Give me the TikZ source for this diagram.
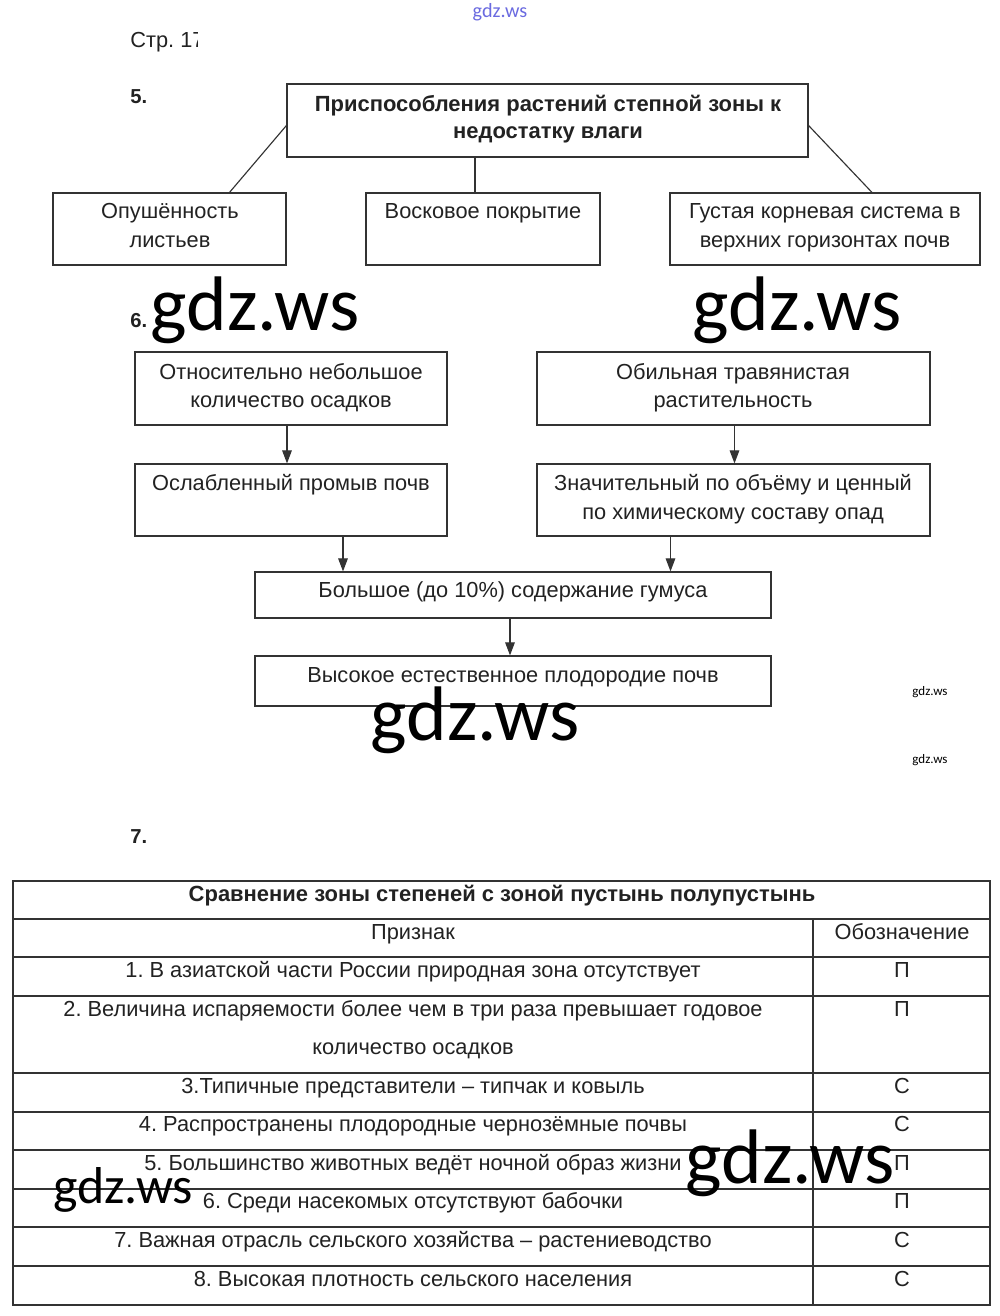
\documentclass[tikz,border=0pt]{standalone}
\usepackage{fontspec}
\setmainfont{Liberation Sans}
\newfontfamily\wmfont{Carlito}
\usetikzlibrary{arrows.meta,fit,calc}
\definecolor{ink}{HTML}{222222}
\definecolor{edge}{HTML}{333333}
\definecolor{wmblue}{HTML}{6A6AE0}
\frenchspacing
\begin{document}
\begin{tikzpicture}[x=0.02cm,y=-0.02cm,
  box/.style={draw=edge, line width=0.65pt, inner sep=0pt},
  txt/.style={font=\fontsize{12.4}{14}\selectfont, text=ink, inner sep=0pt, anchor=base, yshift=-0.12cm},
  btxt/.style={font=\bfseries\fontsize{12.5}{14}\selectfont, text=ink, inner sep=0pt, anchor=base, yshift=-0.12cm},
  lbl/.style={font=\bfseries\fontsize{11.5}{13}\selectfont, text=ink, inner sep=0pt, anchor=west},
  link/.style={draw=edge, line width=0.65pt},
  arr/.style={draw=edge, line width=0.65pt, -{Triangle[length=7.5pt,width=5.5pt]}},
  grid/.style={draw=edge, line width=0.7pt},
  wm/.style={font=\wmfont\fontsize{44}{44}\selectfont, text=black, inner sep=0pt, anchor=base},
  wmsmall/.style={font=\wmfont\fontsize{7.4}{8}\selectfont, text=black, inner sep=0pt, anchor=base},
]
\useasboundingbox[fill=white] (0,0) rectangle (1000,1316);

% header
\node[font=\wmfont\fontsize{11.5}{12}\selectfont, text=wmblue, inner sep=0pt] (wmtop) at (500,12) {gdz.ws};
\begin{scope}
\clip (120,25) rectangle (197,60);
\node[font=\fontsize{12.4}{14}\selectfont, text=ink, inner sep=0pt, anchor=west] (page) at (130,42) {Стр. 17};
\end{scope}

% ---------- 5 ----------
\node[lbl] (n5) at (130,97) {5.};
\node[box, fit={(287,84) (808,157)}] (top) {};
\node[btxt] (toptA) at (548,105) {Приспособления растений степной зоны к};
\node[btxt] (toptB) at (548,132) {недостатку влаги};

\node[box, fit={(53,193) (286,265)}] (left) {};
\node[txt] (leftA) at (170,212) {Опушённость};
\node[txt] (leftB) at (170,241) {листьев};

\node[box, fit={(366,193) (600,265)}] (mid) {};
\node[txt] (midA) at (483,212) {Восковое покрытие};

\node[box, fit={(670,193) (980,265)}] (right) {};
\node[txt] (rightA) at (825,212) {Густая корневая система в};
\node[txt] (rightB) at (825,241) {верхних горизонтах почв};

\coordinate (lend) at ($(left.north)+(60,0)$);
\coordinate (mend) at ($(mid.north)+(-8,0)$);
\coordinate (rend) at ($(right.north)+(47,0)$);
\draw[link] ($(top.west)+(0,5)$) -- (lend);
\draw[link] (top.south -| mend) -- (mend);
\draw[link] ($(top.east)+(0,5)$) -- (rend);

% ---------- 6 ----------
\node[lbl] (n6) at (130,321) {6.};

\node[box, fit={(135,352) (447,425)}] (A) {};
\node[txt] (AA) at (291,373) {Относительно небольшое};
\node[txt] (AB) at (291,401) {количество осадков};

\node[box, fit={(537,352) (930,425)}] (B) {};
\node[txt] (BA) at (733,373) {Обильная травянистая};
\node[txt] (BB) at (733,401) {растительность};

\node[box, fit={(135,464) (447,536)}] (C) {};
\node[txt] (CA) at (291,484) {Ослабленный промыв почв};

\node[box, fit={(537,464) (930,536)}] (D) {};
\node[txt] (DA) at (733,484) {Значительный по объёму и ценный};
\node[txt] (DB) at (733,513) {по химическому составу опад};

\node[box, fit={(255,572) (771,618)}] (E) {};
\node[txt] (EA) at (513,591) {Большое (до 10\%) содержание гумуса};

\node[box, fit={(255,656) (771,706)}] (F) {};
\node[txt] (FA) at (513,676) {Высокое естественное плодородие почв};

\coordinate (ca) at ($(C.south)+(52,0)$);
\coordinate (da) at ($(D.south)+(-63,0)$);
\draw[arr] ($(A.south)+(-4,0)$) -- ($(C.north)+(-4,0)$);
\draw[arr] ($(B.south)+(1,0)$) -- ($(D.north)+(1,0)$);
\draw[arr] (ca) -- (E.north -| ca);
\draw[arr] (da) -- (E.north -| da);
\draw[arr] ($(E.south)+(-3,0)$) -- ($(F.north)+(-3,0)$);

% ---------- 7 ----------
\node[lbl] (n7) at (130,837) {7.};

\draw[grid] (13,881) rectangle (990,1305);
\foreach \yy in {919,957,996,1073,1112,1150,1189,1227,1266}
  \draw[grid] (13,\yy) -- (990,\yy);
\draw[grid] (813,919) -- (813,1305);

\node[btxt] (title) at (502,895) {Сравнение зоны степеней с зоной пустынь полупустынь};
\node[txt] (h1) at (413,933) {Признак};
\node[txt] (h2) at (902,933) {Обозначение};

\node[txt] (r1) at (413,971) {1. В азиатской части России природная зона отсутствует};
\node[txt] (r2a) at (413,1010) {2. Величина испаряемости более чем в три раза превышает годовое};
\node[txt] (r2b) at (413,1048) {количество осадков};
\node[txt] (r3) at (413,1087) {3.Типичные представители – типчак и ковыль};
\node[txt] (r4) at (413,1125) {4. Распространены плодородные чернозёмные почвы};
\node[txt] (r5) at (413,1164) {5. Большинство животных ведёт ночной образ жизни};
\node[txt] (r6) at (413,1202) {6. Среди насекомых отсутствуют бабочки};
\node[txt] (r7) at (413,1241) {7. Важная отрасль сельского хозяйства – растениеводство};
\node[txt] (r8) at (413,1280) {8. Высокая плотность сельского населения};

\node[txt] (s1) at (902,971) {П};
\node[txt] (s2) at (902,1010) {П};
\node[txt] (s3) at (902,1087) {С};
\node[txt] (s4) at (902,1125) {С};
\node[txt] (s5) at (902,1164) {П};
\node[txt] (s6) at (902,1202) {П};
\node[txt] (s7) at (902,1241) {С};
\node[txt] (s8) at (902,1280) {С};

% ---------- watermarks ----------
\node[wm] (wm1) at (255,330) {gdz.ws};
\node[wm] (wm2) at (797,330) {gdz.ws};
\node[wm] (wm3) at (475,740) {gdz.ws};
\node[wm] (wm4) at (790,1183) {gdz.ws};
\node[wm, font=\wmfont\fontsize{29.5}{30}\selectfont] (wm5) at (123,1203) {gdz.ws};
\node[wmsmall] (wm6) at (930,695) {gdz.ws};
\node[wmsmall] (wm7) at (930,763) {gdz.ws};
\end{tikzpicture}
\end{document}
